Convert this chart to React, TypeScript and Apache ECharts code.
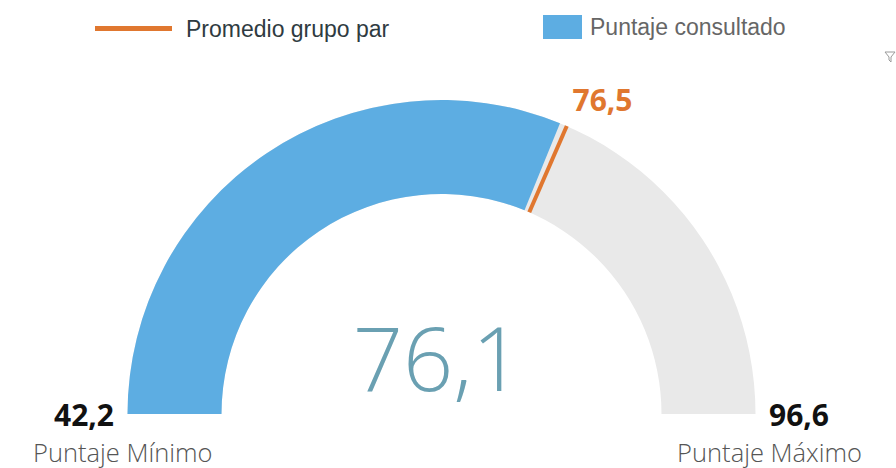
import React, { useEffect, useRef } from "react";
import * as echarts from "echarts";

const scaleMin = 42.2;
const scaleMax = 96.6;
const consultedScore = 76.1;
const peerAverage = 76.5;
const seriesNames = ["Puntaje consultado", "Promedio grupo par"];
const captions = ["Puntaje Mínimo", "Puntaje Máximo"];

const BLUE = "#5dade2";
const GRAY = "#e9e9e9";
const ORANGE = "#e0772f";
const TEAL = "#6aa0b2";

const fmt = (v: number) => v.toFixed(1).replace(".", ",");

export default function App() {
  const ref = useRef<HTMLDivElement>(null);
  useEffect(() => {
    if (!ref.current) return;
    const chart = echarts.init(ref.current, null, { renderer: "svg" });
    const cx = 441.5;
    const cy = 414;
    const R = 314;
    const W = 94;
    chart.setOption({
      animation: false,
      legend: [
        {
          data: [{ name: seriesNames[1], itemStyle: { color: ORANGE } }],
          left: 95,
          top: 17,
          padding: 0,
          icon: "rect",
          itemWidth: 77,
          itemHeight: 5,
          selectedMode: false,
          textStyle: {
            fontFamily: "Liberation Sans, Arial, sans-serif",
            fontSize: 23,
            color: "#2f3b41",
            padding: [0, 0, 0, 9],
          },
        },
        {
          data: [{ name: seriesNames[0], itemStyle: { color: BLUE } }],
          left: 543,
          top: 15,
          padding: 0,
          icon: "rect",
          itemWidth: 39,
          itemHeight: 24,
          selectedMode: false,
          textStyle: {
            fontFamily: "Liberation Sans, Arial, sans-serif",
            fontSize: 23,
            color: "#666666",
            padding: [0, 0, 0, 3],
          },
        },
      ],
      series: [
        {
          name: seriesNames[0],
          type: "gauge",
          center: [cx, cy],
          radius: R,
          startAngle: 180,
          endAngle: 0,
          min: scaleMin,
          max: scaleMax,
          splitNumber: 1,
          color: [BLUE],
          axisLine: { lineStyle: { width: W, color: [[1, GRAY]] } },
          progress: { show: true, width: W, roundCap: false, itemStyle: { color: BLUE } },
          pointer: { show: false },
          anchor: { show: false },
          axisTick: { show: false },
          splitLine: { show: false, length: 0, distance: 0 },
          axisLabel: {
            show: true,
            distance: -73.5,
            formatter: (v: number) => fmt(v),
            color: "#111111",
            fontFamily: "Open Sans, Roboto, sans-serif",
            fontWeight: "bold",
            fontSize: 30,
            padding: [0, 0, 20, 0],
          },
          title: { show: false },
          detail: {
            show: true,
            offsetCenter: [-4, -57],
            formatter: (v: number) => fmt(v),
            color: TEAL,
            fontFamily: "Open Sans, Roboto, sans-serif",
            fontWeight: 300,
            fontSize: 88,
          },
          data: [{ value: consultedScore, name: seriesNames[0] }],
        },
        {
          name: seriesNames[1],
          type: "gauge",
          center: [cx, cy],
          radius: R,
          startAngle: 180,
          endAngle: 0,
          min: scaleMin,
          max: scaleMax,
          color: [ORANGE],
          axisLine: { show: false },
          progress: { show: false },
          axisTick: { show: false },
          splitLine: { show: false },
          axisLabel: { show: false },
          anchor: { show: false },
          pointer: {
            show: true,
            icon: "rect",
            length: W,
            width: 4,
            offsetCenter: [0, -(R - W)],
            itemStyle: { color: ORANGE },
          },
          title: { show: false },
          detail: {
            show: true,
            offsetCenter: [161, -314.5],
            formatter: (v: number) => fmt(v),
            color: ORANGE,
            fontFamily: "Open Sans, Roboto, sans-serif",
            fontWeight: "bold",
            fontSize: 30,
          },
          data: [{ value: peerAverage, name: seriesNames[1] }],
        },
      ],
      graphic: [
        {
          type: "text",
          left: 33,
          top: 439,
          style: {
            text: captions[0],
            fontFamily: "Open Sans, sans-serif",
            fontWeight: 300,
            fontSize: 25.5,
            fill: "#555555",
          },
        },
        {
          type: "text",
          right: 34,
          top: 439,
          style: {
            text: captions[1],
            fontFamily: "Open Sans, sans-serif",
            fontWeight: 300,
            fontSize: 25.5,
            fill: "#555555",
          },
        },
        {
          type: "polyline",
          shape: { points: [[885, 52], [895, 52], [891, 57], [891, 62], [889, 60], [889, 57], [885, 52]] },
          style: { stroke: "#9a9a9a", fill: "none", lineWidth: 1 },
        },
      ],
    });
    return () => chart.dispose();
  }, []);
  return (
    <div
      ref={ref}
      style={{ position: "fixed", left: 0, top: 0, width: 896, height: 468, background: "#fff" }}
    />
  );
}
